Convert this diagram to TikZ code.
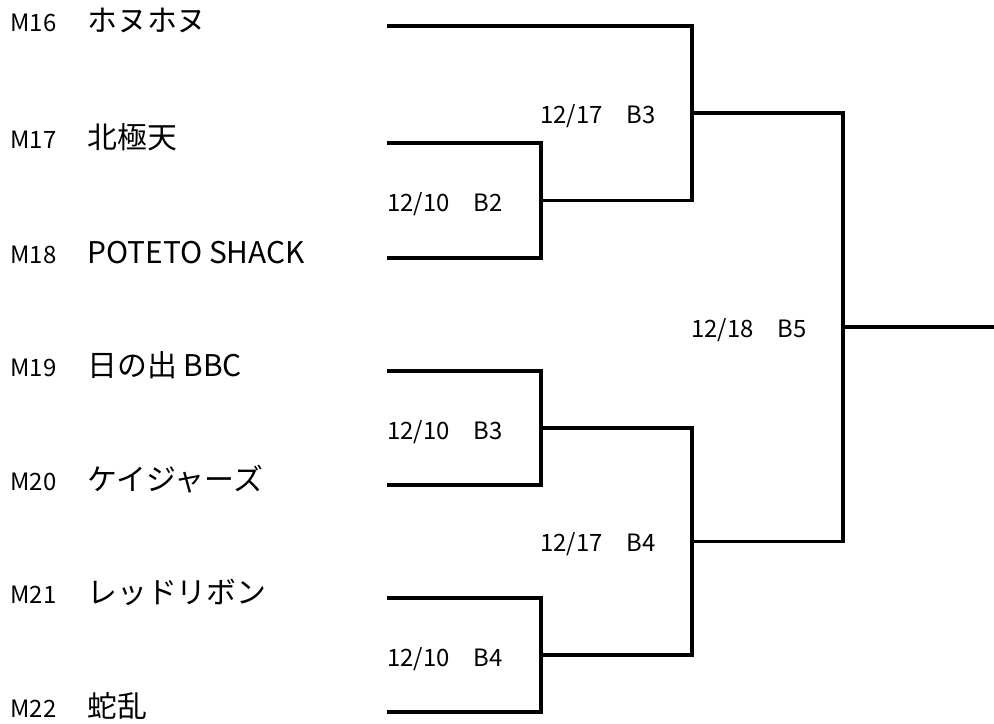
\documentclass[tikz,border=0pt]{standalone}
\usepackage{fontspec}
\newfontfamily\cjk{Noto Sans CJK JP}
\newfontfamily\teamfont{Noto Sans CJK JP}
\usetikzlibrary{positioning}

\begin{document}
\begin{tikzpicture}[
    x=0.2mm, y=-0.2mm,
    seed/.style={anchor=base west, inner sep=0pt, font=\cjk\fontsize{13.6}{16}\selectfont},
    team/.style={anchor=base west, inner sep=0pt, font=\teamfont\fontsize{17}{20}\selectfont},
    match/.style={anchor=base west, inner sep=0pt, font=\cjk\fontsize{13.6}{16}\selectfont},
    bracket/.style={line width=1.9pt, line join=miter, black}
]
\useasboundingbox (0,0) rectangle (994,724);

% Teams
\node[seed] (m16) at (10,31) {M16};
\node[team] (n16) at (87,31) {ホヌホヌ};
\node[seed] (m17) at (10,148) {M17};
\node[team] (n17) at (87,148) {北極天};
\node[seed] (m18) at (10,263) {M18};
\node[team] (n18) at (87,263) {POTETO SHACK};
\node[seed] (m19) at (10,376) {M19};
\node[team] (n19) at (87,376) {日の出 BBC};
\node[seed] (m20) at (10,490) {M20};
\node[team] (n20) at (87,490) {ケイジャーズ};
\node[seed] (m21) at (10,603) {M21};
\node[team] (n21) at (87,603) {レッドリボン};
\node[seed] (m22) at (10,717) {M22};
\node[team] (n22) at (87,717) {蛇乱};

% Line starts
\coordinate (t16) at (387,26);
\coordinate (t17) at (387,143);
\coordinate (t18) at (387,258);
\coordinate (t19) at (387,371);
\coordinate (t20) at (387,485);
\coordinate (t21) at (387,598);
\coordinate (t22) at (387,712);

% Junctions
\coordinate (b2) at (541,200.5);
\coordinate (b3) at (541,428);
\coordinate (b4) at (541,655);
\coordinate (s3) at (692,113);
\coordinate (s4) at (692,541.5);
\coordinate (f5) at (843,327);
\coordinate (win) at (994,327);

% First round
\draw[bracket] (t17) -| (b2) |- (t18);
\draw[bracket] (t19) -| (b3) |- (t20);
\draw[bracket] (t21) -| (b4) |- (t22);

% Second round
\draw[bracket] (t16) -| (s3) |- (b2);
\draw[bracket] (b3) -| (s4) |- (b4);

% Final
\draw[bracket] (s3) -| (f5) |- (s4);
\draw[bracket] (f5) -- (win);

% Match labels
\node[match] (l2) at (387,211) {12/10　B2};
\node[match] (l3) at (387,439) {12/10　B3};
\node[match] (l4) at (387,666) {12/10　B4};
\node[match] (k3) at (540,123) {12/17　B3};
\node[match] (k4) at (540,551) {12/17　B4};
\node[match] (k5) at (691,337) {12/18　B5};

\end{tikzpicture}
\end{document}
